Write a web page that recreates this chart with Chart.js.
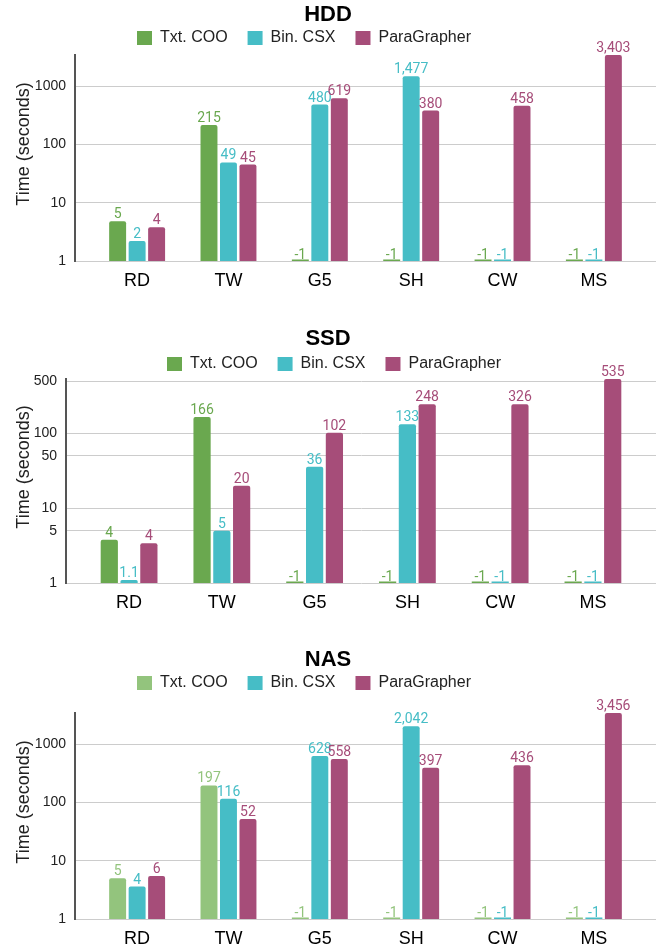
<!DOCTYPE html>
<html><head><meta charset="utf-8">
<script src="https://cdn.jsdelivr.net/npm/chart.js@4/dist/chart.umd.min.js"></script>
<style>
body{margin:0;background:#fff;width:656px;height:951px;overflow:hidden;position:relative}
canvas{position:absolute;left:0}
</style></head><body>
<canvas id="hdd" width="656" height="297" style="top:0px"></canvas>
<canvas id="ssd" width="656" height="295" style="top:324px"></canvas>
<canvas id="nas" width="656" height="310" style="top:645px"></canvas>
<script>
// ---------- data ----------
const categories = ['RD', 'TW', 'G5', 'SH', 'CW', 'MS'];
const seriesNames = ['Txt. COO', 'Bin. CSX', 'ParaGrapher'];
// bar heights (seconds); -1 = not available (drawn as "-1" at the baseline)
const hddTxt  = [4.8, 215, -1, -1, -1, -1];
const hddBin  = [2.2, 49, 480, 1477, -1, -1];
const hddPara = [3.8, 45, 619, 380, 458, 3403];
// printed value labels
const hddTxtLbl  = [5, 215, -1, -1, -1, -1];
const hddBinLbl  = [2, 49, 480, 1477, -1, -1];
const hddParaLbl = [4, 45, 619, 380, 458, 3403];

const ssdTxt  = [3.8, 166, -1, -1, -1, -1];
const ssdBin  = [1.1, 5, 36, 133, -1, -1];
const ssdPara = [3.4, 20, 102, 245, 245, 535];
const ssdTxtLbl  = [4, 166, -1, -1, -1, -1];
const ssdBinLbl  = [1.1, 5, 36, 133, -1, -1];
const ssdParaLbl = [4, 20, 102, 248, 326, 535];

const nasTxt  = [5, 197, -1, -1, -1, -1];
const nasBin  = [3.6, 116, 628, 2042, -1, -1];
const nasPara = [5.5, 52, 558, 397, 436, 3456];
const nasTxtLbl  = [5, 197, -1, -1, -1, -1];
const nasBinLbl  = [4, 116, 628, 2042, -1, -1];
const nasParaLbl = [6, 52, 558, 397, 436, 3456];

const hddTicks = [1, 10, 100, 1000];
const ssdTicks = [1, 5, 10, 50, 100, 500];
const nasTicks = [1, 10, 100, 1000];

const GREEN = '#6aa84f', LIGHTGREEN = '#93c47d', CYAN = '#46bdc6', MAGENTA = '#a64d79';

Chart.defaults.font.family = "'Liberation Sans', Arial, sans-serif";
Chart.defaults.color = '#222';

// ---------- plugins ----------
const boxFix = {
  id: 'boxFix',
  beforeLayout(chart, args, opts) {
    if (chart.$boxFixed) return;
    chart.$boxFixed = true;
    const t = chart.titleBlock, l = chart.legend;
    if (t) { const tu = t.update; t.update = function(...a) { tu.apply(this, a); this.height = opts.titleH; }; }
    if (l) { const lu = l.update; l.update = function(...a) { lu.apply(this, a); this.height = opts.legendH; }; }
  },
  afterLayout(chart, args, opts) {
    const l = chart.legend;
    if (l) { l.left += opts.legendShift; l.right += opts.legendShift; }
  }
};

const valueLabels = {
  id: 'valueLabels',
  afterDatasetsDraw(chart) {
    const ctx = chart.ctx;
    const ys = chart.scales.y;
    ctx.save();
    ctx.font = "14px Roboto, 'Liberation Sans', sans-serif";
    ctx.textAlign = 'center';
    ctx.textBaseline = 'alphabetic';
    chart.data.datasets.forEach((ds, di) => {
      const meta = chart.getDatasetMeta(di);
      meta.data.forEach((el, i) => {
        const lbl = ds.valueLabels[i];
        const h = ds.heights[i];
        ctx.fillStyle = ds.backgroundColor;
        if (h > 0) {
          const top = ys.getPixelForValue(h);
          ctx.fillText(Number(lbl).toLocaleString('en-US'), el.x, top - 3);
        } else {
          const b = ys.bottom;
          ctx.fillText('-1', el.x, b - 2);
          ctx.fillRect(el.x - el.width / 2, b - 1.5, el.width, 1.5);
        }
      });
    });
    ctx.restore();
  }
};

const yTitle = {
  id: 'yTitle',
  afterDraw(chart, args, opts) {
    const ctx = chart.ctx, a = chart.chartArea;
    ctx.save();
    ctx.translate(24, (a.top + a.bottom) / 2 - 14);
    ctx.rotate(-Math.PI / 2);
    ctx.font = "18px 'Liberation Sans', Arial, sans-serif";
    ctx.fillStyle = '#222';
    ctx.textAlign = 'center';
    ctx.textBaseline = 'middle';
    ctx.fillText('Time (seconds)', 0, 0);
    ctx.restore();
  }
};

function makeChart(id, title, series, labelSets, colors, ticks, yWidth, titleH, legendH, legendShift) {
  const datasets = series.map((vals, k) => ({
    label: seriesNames[k],
    data: vals.map((v, i) => ({ x: i, y: v })),
    heights: vals,
    valueLabels: labelSets[k],
    backgroundColor: colors[k],
    borderColor: colors[k],
    borderWidth: 0,
    borderRadius: 2,
    categoryPercentage: 0.64,
    barPercentage: 0.87
  }));
  const maxVal = Math.max(...series.flat());
  return new Chart(document.getElementById(id), {
    type: 'bar',
    data: { datasets },
    plugins: [boxFix, valueLabels, yTitle],
    options: {
      responsive: false,
      animation: false,
      layout: { padding: 0 },
      plugins: {
        boxFix: { titleH, legendH, legendShift },
        title: {
          display: true, text: title, color: '#000',
          font: { size: 22, weight: 'bold' },
          padding: { top: 2, bottom: 0 }
        },
        legend: {
          display: true,
          labels: { boxWidth: 15, boxHeight: 14, padding: 20, color: '#222', font: { size: 16 } }
        },
        tooltip: { enabled: false }
      },
      scales: {
        x: {
          type: 'linear', min: -0.68, max: 5.68, offset: false,
          grid: { display: false, drawTicks: false, tickLength: 0 },
          border: { display: false },
          afterBuildTicks: s => { s.ticks = categories.map((c, i) => ({ value: i })); },
          afterFit: s => { s.height = 36; },
          ticks: {
            autoSkip: false, maxRotation: 0, padding: 9, color: '#000',
            font: { size: 18 },
            callback: v => categories[Math.round(v)]
          }
        },
        y: {
          type: 'logarithmic', min: 1, max: maxVal,
          grid: { color: '#cccccc', lineWidth: 1, drawTicks: false, tickLength: 0 },
          border: { display: true, color: '#555', width: 2 },
          afterBuildTicks: s => { s.ticks = ticks.map(v => ({ value: v })); },
          afterFit: s => { s.width = yWidth; },
          ticks: { padding: 9, color: '#222', font: { size: 14 }, callback: v => String(v) }
        }
      }
    }
  });
}

makeChart('hdd', 'HDD', [hddTxt, hddBin, hddPara], [hddTxtLbl, hddBinLbl, hddParaLbl],
  [GREEN, CYAN, MAGENTA], hddTicks, 75, 10, 45, -24);
makeChart('ssd', 'SSD', [ssdTxt, ssdBin, ssdPara], [ssdTxtLbl, ssdBinLbl, ssdParaLbl],
  [GREEN, CYAN, MAGENTA], ssdTicks, 66, 12, 43, 6);
makeChart('nas', 'NAS', [nasTxt, nasBin, nasPara], [nasTxtLbl, nasBinLbl, nasParaLbl],
  [LIGHTGREEN, CYAN, MAGENTA], nasTicks, 75, 10, 58, -24);
</script>
</body></html>
